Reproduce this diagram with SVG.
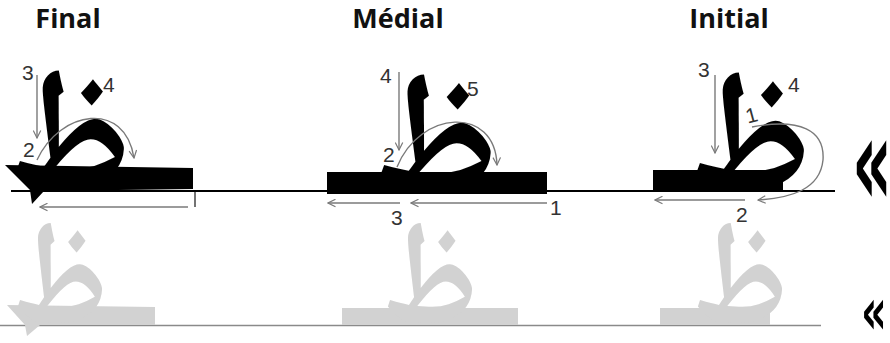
<svg xmlns="http://www.w3.org/2000/svg" width="890" height="343" viewBox="0 0 890 343">
<style>
.title{font-family:"Open Sans","Noto Sans",sans-serif;font-weight:bold;font-size:27px;fill:#111;text-anchor:middle}
.num{font-family:"Liberation Sans",Arial,sans-serif;font-size:21px;fill:#333}
.glyph{font-family:"Noto Naskh Arabic","DejaVu Sans",serif;font-weight:bold}
.big{font-size:182px}
.small{font-size:147px}
.ink{fill:#000}
.ghost{fill:#d2d2d2}
.arr{fill:none;stroke:#7a7a7a;stroke-width:1.4;marker-end:url(#ah)}
.chev{font-family:"DejaVu Sans",sans-serif;font-weight:bold;fill:#000}
</style>
<defs>
<marker id="ah" viewBox="0 0 12 12" refX="11" refY="6" markerWidth="9" markerHeight="9" markerUnits="userSpaceOnUse" orient="auto">
<polyline points="1,1 11,6 1,11" fill="none" stroke="#7a7a7a" stroke-width="1.6"/>
</marker>
</defs>
<rect width="890" height="343" fill="#fff"/>

<g id="titles">
<text class="title" x="68" y="28">Final</text>
<text class="title" x="398" y="28">Médial</text>
<text class="title" x="729" y="28">Initial</text>
</g>

<g id="baselines">
<line x1="11" y1="191" x2="835" y2="191" stroke="#000" stroke-width="2"/>
<line x1="0" y1="325.5" x2="821" y2="325.5" stroke="#8a8a8a" stroke-width="1.5"/>
</g>

<g id="final">
<polygon class="ink" points="5,165 193,168 193,189 44,191 32,204 30,190"/>
<text class="glyph big ink" transform="translate(11,188) scale(0.82,0.95) skewX(-4)">ظ</text>
</g>
<g id="medial">
<rect class="ink" x="327" y="172" width="220" height="22"/>
<text class="glyph big ink" transform="translate(375,192) scale(0.84,0.95) skewX(-4)">ظ</text>
</g>
<g id="initial">
<rect class="ink" x="653" y="170" width="130" height="22"/>
<text class="glyph big ink" transform="translate(691,190) scale(0.82,0.95) skewX(-4)">ظ</text>
</g>

<g id="final-ghost">
<polygon class="ghost" points="7,305 155,307 155,325 40,325 27,336 25,325"/>
<text class="glyph small ghost" transform="translate(13,323) scale(0.8,1) skewX(-4)">ظ</text>
</g>
<g id="medial-ghost">
<rect class="ghost" x="342" y="308" width="176" height="17"/>
<text class="glyph small ghost" transform="translate(383,323) scale(0.8,1) skewX(-4)">ظ</text>
</g>
<g id="initial-ghost">
<rect class="ghost" x="660" y="308" width="110" height="17"/>
<text class="glyph small ghost" transform="translate(693,323) scale(0.8,1) skewX(-4)">ظ</text>
</g>

<g id="connectors">
<path class="arr" d="M37,75 V138"/>
<path class="arr" d="M37,160 C60,110 125,100 134,158"/>
<path class="arr" d="M188,207 H40"/>
<line x1="195" y1="192" x2="195" y2="207" stroke="#444" stroke-width="1.5"/>

<path class="arr" d="M399,72 V150"/>
<path class="arr" d="M397,167 C420,110 495,105 497,165"/>
<path class="arr" d="M547,203 H411"/>
<path class="arr" d="M400,203 H328"/>

<path class="arr" d="M715,75 V153"/>
<path class="arr" d="M752,127 C800,118 825,130 823,160 C820,190 790,198 758,200"/>
<path class="arr" d="M745,200 H655"/>
</g>

<g id="labels">
<text class="num" x="22" y="80">3</text>
<text class="num" x="103" y="92">4</text>
<text class="num" x="23" y="157">2</text>
<text class="num" x="380" y="83">4</text>
<text class="num" x="467" y="96">5</text>
<text class="num" x="383" y="162">2</text>
<text class="num" x="550" y="215">1</text>
<text class="num" x="391" y="225">3</text>
<text class="num" x="698" y="77">3</text>
<text class="num" x="788" y="92">4</text>
<text class="num" x="746" y="123" transform="rotate(-15 750 117)">1</text>
<text class="num" x="736" y="222">2</text>
</g>

<g id="chevrons">
<text class="chev" transform="translate(852,205) scale(1.0,2)" font-size="62">«</text>
<text class="chev" transform="translate(861,334) scale(0.95,1.55)" font-size="42">«</text>
</g>
</svg>
